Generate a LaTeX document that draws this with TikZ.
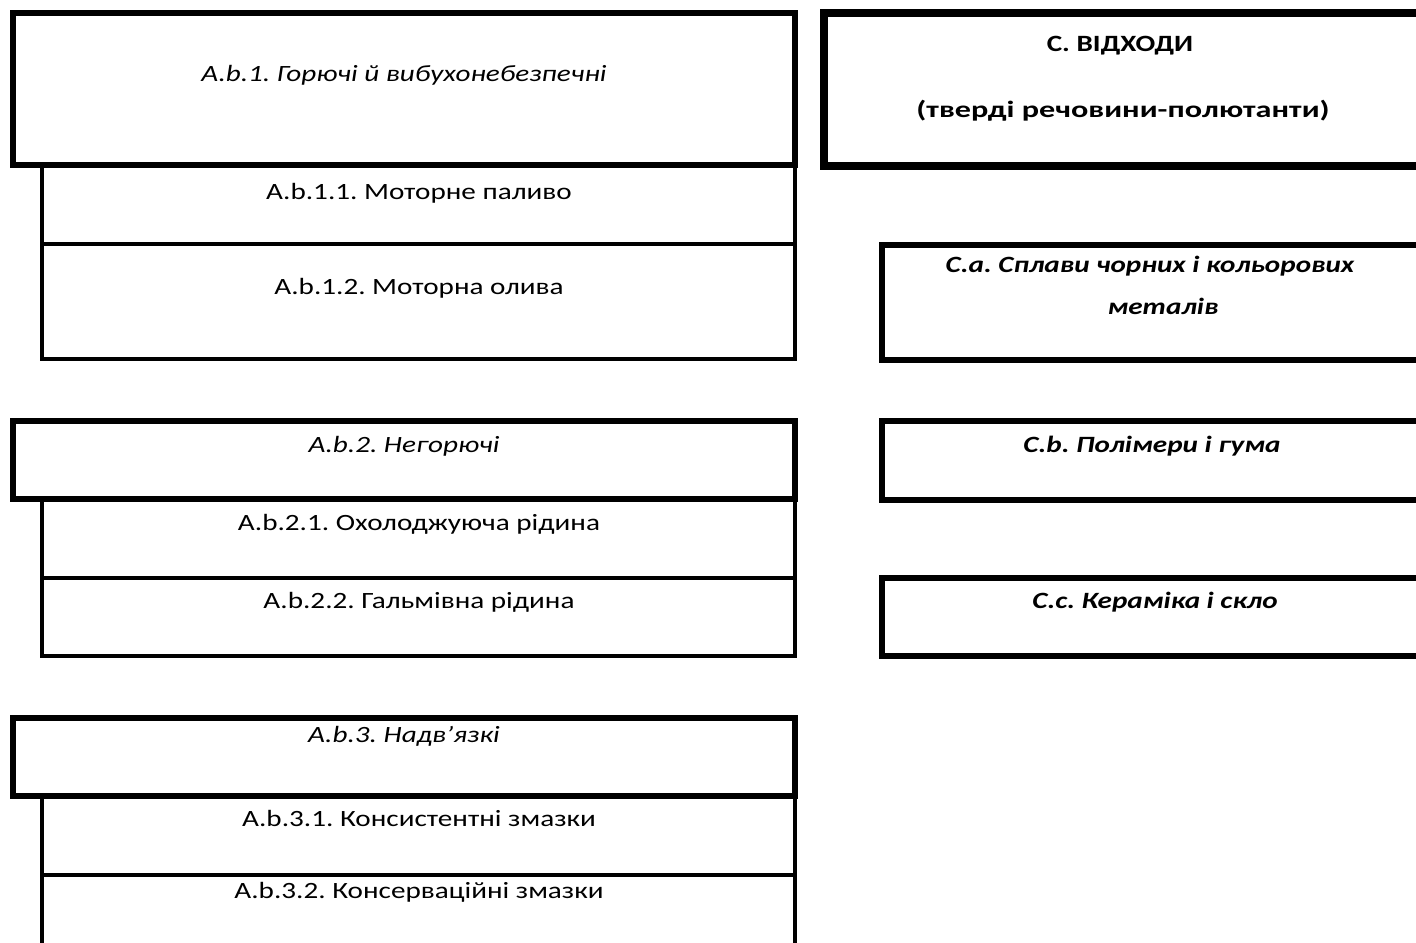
\documentclass[tikz,border=0pt]{standalone}
\usepackage{fontspec}
\setmainfont{Carlito}[FakeStretch=1.25]
\frenchspacing
\tikzset{
    headbox/.style={line width=4.5pt},
    subbox/.style={line width=3pt},
    mainbox/.style={line width=6pt},
    lbl/.style={anchor=base, inner sep=0.75pt, font=\fontsize{17.5}{21}\selectfont},
}
\begin{document}
\begin{tikzpicture}[x=0.75pt,y=0.75pt,yscale=-1,xscale=1]
    \useasboundingbox (0,0) rectangle (1416,942);
    \clip (0,0) rectangle (1416,942);
    %Shape: Rectangle
    \draw [subbox]  (42,165) rectangle (795,244) ;
    \draw [subbox]  (42,244) rectangle (795,359) ;
    \draw [headbox] (13,13) rectangle (795,165) ;
    %Shape: Rectangle
    \draw [subbox]  (42,499) rectangle (795,577.5) ;
    \draw [subbox]  (42,577.5) rectangle (795,656) ;
    \draw [headbox] (13,421) rectangle (795,499) ;
    %Shape: Rectangle
    \draw [subbox]  (42,796) rectangle (795,874.5) ;
    \draw [subbox]  (42,874.5) rectangle (795,960) ;
    \draw [headbox] (13,718) rectangle (795,796) ;
    %Shape: Rectangle
    \draw [mainbox] (823.5,13.5) rectangle (1430,166) ;
    \draw [headbox] (882,244.5) rectangle (1430,359.5) ;
    \draw [headbox] (882,420.5) rectangle (1430,499.5) ;
    \draw [headbox] (882,577.5) rectangle (1430,656) ;
    % Text Node
    \draw (404,82) node [lbl] (gone) {\itshape A.b.1. Горючі й вибухонебезпечні};
    % Text Node
    \draw (419,199) node [lbl] (gonea) {A.b.1.1. Моторне паливо};
    % Text Node
    \draw (419,294) node [lbl] (goneb) {A.b.1.2. Моторна олива};
    % Text Node
    \draw (404,452) node [lbl] (gtwo) {\itshape A.b.2. Негорючі};
    % Text Node
    \draw (419,530) node [lbl] (gtwoa) {A.b.2.1. Охолоджуюча рідина};
    % Text Node
    \draw (419,608) node [lbl] (gtwob) {A.b.2.2. Гальмівна рідина};
    % Text Node
    \draw (404,742) node [lbl] (gthree) {\itshape A.b.3. Надв’язкі};
    % Text Node
    \draw (419,826) node [lbl] (gthreea) {A.b.3.1. Консистентні змазки};
    % Text Node
    \draw (419,898) node [lbl] (gthreeb) {A.b.3.2. Консерваційні змазки};
    % Text Node
    \draw (1120,52) node [lbl] (ctitle) {\bfseries С. ВІДХОДИ};
    % Text Node
    \draw (1123,117) node [lbl] (csub) {\bfseries\addfontfeature{FakeStretch=1.38}(тверді речовини-полютанти)};
    % Text Node
    \draw (1150,272) node [lbl] (caone) {\bfseries\itshape С.а. Сплави чорних і кольорових};
    % Text Node
    \draw (1163,314) node [lbl] (catwo) {\bfseries\itshape металів};
    % Text Node
    \draw (1152,452) node [lbl] (cb) {\bfseries\itshape С.b. Полімери і гума};
    % Text Node
    \draw (1155,608) node [lbl] (cc) {\bfseries\itshape С.с. Кераміка і скло};
\end{tikzpicture}
\end{document}
